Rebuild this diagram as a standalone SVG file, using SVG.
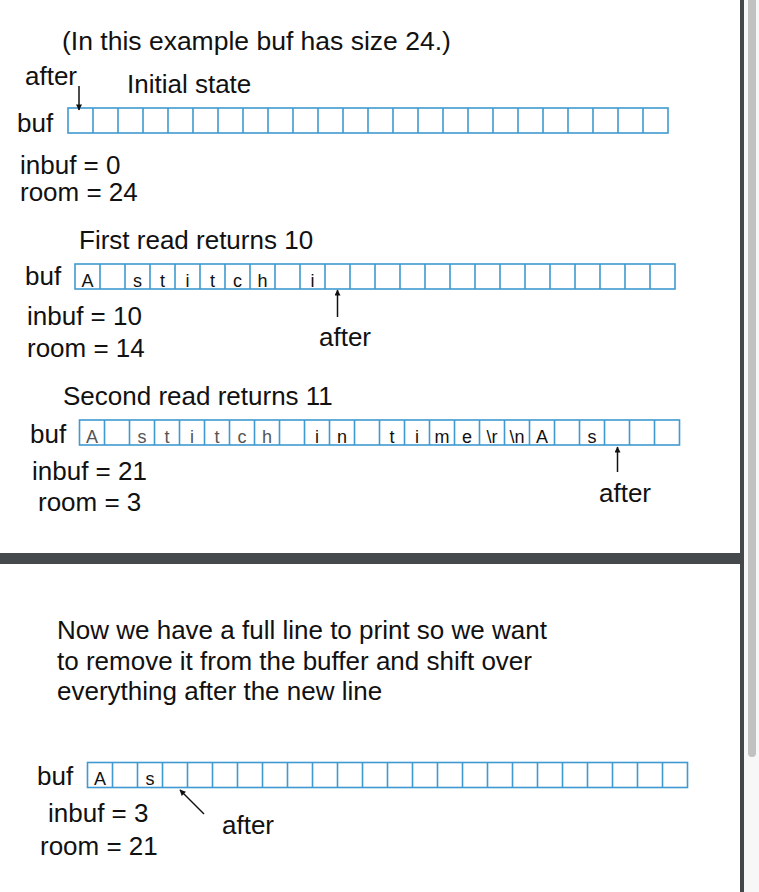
<svg xmlns="http://www.w3.org/2000/svg" xmlns:xlink="http://www.w3.org/1999/xlink" width="759" height="892" viewBox="0 0 759 892">
  <style>
    .t { font-family: "Liberation Sans", Arial, Helvetica, sans-serif; font-size: 26px; fill: #111; }
    .title { font-size: 26.5px; }
    .c { font-family: "Liberation Sans", Arial, Helvetica, sans-serif; font-size: 18px; fill: #111; text-anchor: middle; }
    .cg { fill: #555; }
    .grid { fill: none; stroke: #3e9ad0; stroke-width: 1.6; }
    .arr { stroke: #111; stroke-width: 1.5; fill: none; marker-end: url(#ah); }
  </style>
  <defs>
    <marker id="ah" viewBox="0 0 10 10" refX="9" refY="5" markerWidth="8" markerHeight="6" orient="auto" markerUnits="userSpaceOnUse">
      <path d="M0,0 L10,5 L0,10 z" fill="#111"/>
    </marker>
    <g id="cells">
      <rect class="grid" x="0" y="0" width="600" height="25"/>
      <path class="grid" d="M25,0v25M50,0v25M75,0v25M100,0v25M125,0v25M150,0v25M175,0v25M200,0v25M225,0v25M250,0v25M275,0v25M300,0v25M325,0v25M350,0v25M375,0v25M400,0v25M425,0v25M450,0v25M475,0v25M500,0v25M525,0v25M550,0v25M575,0v25"/>
    </g>
  </defs>

  <rect x="0" y="0" width="759" height="892" fill="#ffffff"/>

  <!-- window frame / scrollbar -->
  <g id="frame">
    <rect x="0" y="553" width="742" height="11" fill="#46494c"/>
    <rect x="740" y="0" width="4" height="892" fill="#43474a"/>
    <rect x="744" y="0" width="15" height="892" fill="#f7f7f7"/>
    <rect x="748" y="-10" width="8" height="767" rx="4" fill="#c1c1c1"/>
  </g>

  <g id="title">
    <text class="t title" x="62" y="50">(In this example buf has size 24.)</text>
  </g>

  <g id="state-initial">
    <text class="t" x="127" y="93">Initial state</text>
    <text class="t" x="17" y="132">buf</text>
    <use xlink:href="#cells" x="68" y="108"/>
    <text class="t" x="20" y="174">inbuf = 0</text>
    <text class="t" x="20" y="201">room = 24</text>
    <text class="t" x="25" y="85">after</text>
  </g>

  <g id="state-first-read">
    <text class="t" x="79" y="249">First read returns 10</text>
    <text class="t" x="25" y="285">buf</text>
    <use xlink:href="#cells" x="75" y="264"/>
    <text class="c" x="87.5" y="286.5">A</text>
    <text class="c" x="137.5" y="286.5">s</text>
    <text class="c" x="162.5" y="286.5">t</text>
    <text class="c" x="187.5" y="286.5">i</text>
    <text class="c" x="212.5" y="286.5">t</text>
    <text class="c" x="237.5" y="286.5">c</text>
    <text class="c" x="262.5" y="286.5">h</text>
    <text class="c" x="312.5" y="286.5">i</text>
    <text class="t" x="27" y="325">inbuf = 10</text>
    <text class="t" x="27" y="357">room = 14</text>
    <text class="t" x="319" y="346">after</text>
  </g>

  <g id="state-second-read">
    <text class="t" x="63" y="405">Second read returns 11</text>
    <text class="t" x="30" y="443">buf</text>
    <use xlink:href="#cells" x="79.5" y="420"/>
    <text class="c cg" x="92" y="442.5">A</text>
    <text class="c cg" x="142" y="442.5">s</text>
    <text class="c cg" x="167" y="442.5">t</text>
    <text class="c cg" x="192" y="442.5">i</text>
    <text class="c cg" x="217" y="442.5">t</text>
    <text class="c cg" x="242" y="442.5">c</text>
    <text class="c cg" x="267" y="442.5">h</text>
    <text class="c" x="317" y="442.5">i</text>
    <text class="c" x="342" y="442.5">n</text>
    <text class="c" x="392" y="442.5">t</text>
    <text class="c" x="417" y="442.5">i</text>
    <text class="c" x="442" y="442.5">m</text>
    <text class="c" x="467" y="442.5">e</text>
    <text class="c" x="492" y="442.5">\r</text>
    <text class="c" x="517" y="442.5">\n</text>
    <text class="c" x="542" y="442.5">A</text>
    <text class="c" x="592" y="442.5">s</text>
    <text class="t" x="32" y="480">inbuf = 21</text>
    <text class="t" x="38" y="511">room = 3</text>
    <text class="t" x="599" y="502">after</text>
  </g>

  <g id="explanation">
    <text class="t" x="57" y="639">Now we have a full line to print so we want</text>
    <text class="t" x="57" y="670">to remove it from the buffer and shift over</text>
    <text class="t" x="57" y="700">everything after the new line</text>
  </g>

  <g id="state-shifted">
    <text class="t" x="37" y="785">buf</text>
    <use xlink:href="#cells" x="87.5" y="762.5"/>
    <text class="c" x="100" y="785">A</text>
    <text class="c" x="150" y="785">s</text>
    <text class="t" x="48" y="822">inbuf = 3</text>
    <text class="t" x="40" y="855">room = 21</text>
    <text class="t" x="222" y="834">after</text>
  </g>

  <g id="connectors">
    <line class="arr" x1="79" y1="86" x2="79" y2="110"/>
    <line class="arr" x1="337.5" y1="317" x2="337.5" y2="290"/>
    <line class="arr" x1="617.5" y1="472" x2="617.5" y2="447"/>
    <line class="arr" x1="204" y1="814" x2="180" y2="790"/>
  </g>
</svg>
